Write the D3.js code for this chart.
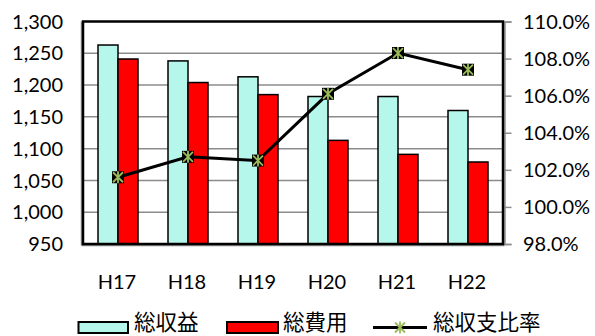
<!DOCTYPE html>
<html>
<head>
<meta charset="utf-8">
<script src="https://cdn.jsdelivr.net/npm/d3@7"></script>
<style>
  body { margin: 0; background: #fff; }
  svg { display: block; }
  text { font-family: Lato, "Noto Sans CJK JP", sans-serif; fill: #000; }
</style>
</head>
<body>
<svg width="595" height="336"></svg>
<script>
var years = ["H17", "H18", "H19", "H20", "H21", "H22"];
var revenue = [1263, 1238, 1213, 1182, 1182, 1160];   // 総収益
var expense = [1241, 1204, 1185, 1113, 1091, 1079];   // 総費用
var ratio = [101.6, 102.7, 102.5, 106.1, 108.3, 107.4]; // 総収支比率 (%)
var leftTicks = [950, 1000, 1050, 1100, 1150, 1200, 1250, 1300];
var rightTicks = [98, 100, 102, 104, 106, 108, 110];

var svg = d3.select("svg");

var plotLeft = 83, plotRight = 503, plotTop = 21.5, plotBottom = 244;

var x = d3.scaleBand().domain(years).range([plotLeft, plotRight]).padding(0);
var y = d3.scaleLinear().domain([950, 1300]).range([plotBottom, plotTop]);
var y2 = d3.scaleLinear().domain([98, 110]).range([plotBottom, plotTop]);

var barW = 20;
var cx = i => x(years[i]) + x.bandwidth() / 2;

// gridlines
svg.append("g")
    .selectAll("line")
    .data(leftTicks.slice(1, -1))
    .enter().append("line")
    .attr("x1", plotLeft).attr("x2", plotRight)
    .attr("y1", d => y(d)).attr("y2", d => y(d))
    .attr("stroke", "#8c8c8c")
    .attr("stroke-width", 1.5);

// grey axis lines outside the frame
svg.append("line")
    .attr("x1", plotLeft - 1.5).attr("x2", plotLeft - 1.5)
    .attr("y1", plotTop).attr("y2", plotBottom + 1.5)
    .attr("stroke", "#8c8c8c").attr("stroke-width", 1.5);
svg.append("line")
    .attr("x1", plotLeft - 1.5).attr("x2", plotRight + 1.5)
    .attr("y1", plotBottom + 1.5).attr("y2", plotBottom + 1.5)
    .attr("stroke", "#8c8c8c").attr("stroke-width", 1.5);

var rightAxis = d3.axisRight(y2).tickValues(rightTicks).tickSize(7).tickFormat("");
svg.append("g")
    .attr("transform", "translate(" + (plotRight + 1.5) + ",0)")
    .call(rightAxis)
    .call(g => g.selectAll("line, path").attr("stroke", "#8c8c8c").attr("stroke-width", 1.5));

// bars
svg.append("g")
    .selectAll("rect")
    .data(revenue)
    .enter().append("rect")
    .attr("x", (d, i) => cx(i) - barW)
    .attr("y", d => y(d))
    .attr("width", barW)
    .attr("height", d => plotBottom - y(d))
    .attr("fill", "#b5f7ea")
    .attr("stroke", "#000")
    .attr("stroke-width", 1.5);

svg.append("g")
    .selectAll("rect")
    .data(expense)
    .enter().append("rect")
    .attr("x", (d, i) => cx(i))
    .attr("y", d => y(d))
    .attr("width", barW)
    .attr("height", d => plotBottom - y(d))
    .attr("fill", "#ff0000")
    .attr("stroke", "#000")
    .attr("stroke-width", 1.5);

// frame
svg.append("rect")
    .attr("x", plotLeft).attr("y", plotTop)
    .attr("width", plotRight - plotLeft).attr("height", plotBottom - plotTop)
    .attr("fill", "none")
    .attr("stroke", "#000")
    .attr("stroke-width", 2.5);

// ratio line
var line = d3.line()
    .x((d, i) => cx(i))
    .y(d => y2(d));

svg.append("path")
    .datum(ratio)
    .attr("d", line)
    .attr("fill", "none")
    .attr("stroke", "#000")
    .attr("stroke-width", 3);

var star = "M-5,-5L5,5M-5,5L5,-5M0,-6L0,6";
var markers = svg.append("g")
    .selectAll("g")
    .data(ratio)
    .enter().append("g")
    .attr("transform", (d, i) => "translate(" + cx(i) + "," + y2(d) + ")");
markers.append("rect")
    .attr("x", -6).attr("y", -6).attr("width", 12).attr("height", 12)
    .attr("fill", "#000");
markers.append("path")
    .attr("d", star)
    .attr("stroke", "#9bbb59")
    .attr("stroke-width", 1.8)
    .attr("fill", "none");

// left tick labels
svg.append("g")
    .selectAll("text")
    .data(leftTicks)
    .enter().append("text")
    .attr("x", 63)
    .attr("y", d => y(d))
    .attr("dy", "0.36em")
    .attr("text-anchor", "end")
    .attr("font-size", 20)
    .text(d => d3.format(",")(d));

// right tick labels
svg.append("g")
    .selectAll("text")
    .data(rightTicks)
    .enter().append("text")
    .attr("x", 523)
    .attr("y", d => y2(d))
    .attr("dy", "0.36em")
    .attr("font-size", 20)
    .text(d => d.toFixed(1) + "%");

// category labels
svg.append("g")
    .selectAll("text")
    .data(years)
    .enter().append("text")
    .attr("x", d => x(d) + x.bandwidth() / 2 - 1)
    .attr("y", 289)
    .attr("text-anchor", "middle")
    .attr("font-size", 20)
    .text(d => d);

// legend
var legend = svg.append("g").attr("font-size", 21.5);
legend.append("rect")
    .attr("x", 78.5).attr("y", 322).attr("width", 49.5).attr("height", 11)
    .attr("fill", "#b5f7ea").attr("stroke", "#000").attr("stroke-width", 2);
legend.append("text")
    .attr("x", 134).attr("y", 330)
    .style("font-family", "'Noto Sans CJK JP'")
    .text("総収益");
legend.append("rect")
    .attr("x", 227).attr("y", 322).attr("width", 51).attr("height", 11)
    .attr("fill", "#ff0000").attr("stroke", "#000").attr("stroke-width", 2);
legend.append("text")
    .attr("x", 283).attr("y", 330)
    .style("font-family", "'Noto Sans CJK JP'")
    .text("総費用");
legend.append("line")
    .attr("x1", 373).attr("x2", 427).attr("y1", 327.5).attr("y2", 327.5)
    .attr("stroke", "#000").attr("stroke-width", 3);
legend.append("path")
    .attr("transform", "translate(400,327.5)")
    .attr("d", star)
    .attr("stroke", "#9bbb59")
    .attr("stroke-width", 1.8)
    .attr("fill", "none");
legend.append("text")
    .attr("x", 433).attr("y", 330)
    .style("font-family", "'Noto Sans CJK JP'")
    .text("総収支比率");
</script>
</body>
</html>
